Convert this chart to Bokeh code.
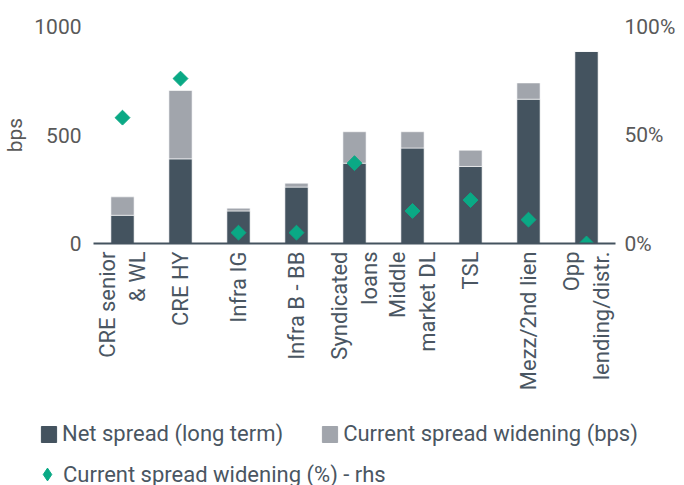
import math
from bokeh.plotting import figure
from bokeh.models import (ColumnDataSource, FactorRange, Range1d, LinearAxis,
                          Legend, LegendItem, FixedTicker, CustomJSTickFormatter)
from bokeh.embed import file_html
from bokeh.resources import INLINE

categories = ["CRE senior\n& WL", "CRE HY", "Infra IG", "Infra B - BB",
              "Syndicated\nloans", "Middle\nmarket DL", "TSL",
              "Mezz/2nd lien", "Opp\nlending/distr."]
net_spread = [130, 390, 150, 260, 370, 440, 355, 665, 885]
widening_bps = [85, 315, 13, 18, 145, 75, 75, 75, 0]
widening_pct = [58, 76, 5, 5, 37, 15, 20, 11, 0]
left_ticks = [0, 500, 1000]
right_ticks = [0, 50, 100]
series_labels = ["Net spread (long term)", "Current spread widening (bps)",
                 "Current spread widening (%) - rhs"]

DARK = "#44535f"
LIGHT = "#a1a5ac"
GREEN = "#0aa985"
TICK_GREY = "#595959"
TEXT_DARK = "#4a5662"
FONT = "Roboto"
FS = "22px"
FS_Y = "21px"

src = ColumnDataSource(dict(cat=categories, net=net_spread, wid=widening_bps,
                            pct=widening_pct))
xr = FactorRange(*categories, range_padding=0)

p = figure(width=678, height=397, x_range=xr,
           y_range=Range1d(0, 1000), output_backend="svg", toolbar_location=None,
           min_border_left=92, min_border_top=26, min_border_right=60,
           min_border_bottom=154)
p.outline_line_color = None
p.xgrid.grid_line_color = None
p.ygrid.grid_line_color = None
p.border_fill_color = "white"

p.extra_y_ranges = {"pct": Range1d(0, 100)}

p.vbar_stack(["net", "wid"], x="cat", width=0.4, source=src,
             color=[DARK, LIGHT], line_color="white", line_width=0.6)
p.scatter(x="cat", y="pct", source=src, y_range_name="pct", marker="square",
          angle=math.pi / 4, size=10.5, color=GREEN)

# left axis
ya = p.yaxis[0]
ya.ticker = FixedTicker(ticks=left_ticks)
ya.axis_line_color = None
ya.major_tick_line_color = None
ya.minor_tick_line_color = None
ya.major_tick_out = 0
ya.major_tick_in = 0
ya.major_label_standoff = 12
ya.major_label_text_font = FONT
ya.major_label_text_font_size = FS_Y
ya.major_label_text_color = TICK_GREY
ya.axis_label = "bps"
ya.axis_label_text_font = FONT
ya.axis_label_text_font_size = FS_Y
ya.axis_label_text_font_style = "normal"
ya.axis_label_text_color = TICK_GREY
ya.axis_label_standoff = 4

# right axis
ra = LinearAxis(y_range_name="pct", ticker=FixedTicker(ticks=right_ticks),
                formatter=CustomJSTickFormatter(code="return tick + '%';"))
ra.axis_line_color = None
ra.major_tick_line_color = None
ra.minor_tick_line_color = None
ra.major_tick_out = 0
ra.major_tick_in = 0
ra.major_label_standoff = 9
ra.major_label_text_font = FONT
ra.major_label_text_font_size = FS_Y
ra.major_label_text_color = TICK_GREY
p.add_layout(ra, "right")

# x axis
xa = p.xaxis[0]
xa.axis_line_color = DARK
xa.axis_line_width = 2
xa.major_tick_line_color = None
xa.minor_tick_line_color = None
xa.major_tick_out = 0
xa.major_tick_in = 0
xa.major_label_orientation = math.pi / 2
xa.major_label_standoff = 8
xa.major_label_text_font = FONT
xa.major_label_text_font_size = FS
xa.major_label_text_color = TEXT_DARK

# legend strip below the chart (swatch renderers are hidden, legend only)
lf = figure(width=678, height=88, x_range=Range1d(0, 1), y_range=Range1d(0, 1),
            x_axis_type=None, y_axis_type=None, output_backend="svg",
            toolbar_location=None, min_border=0)
lf.outline_line_color = None
lf.border_fill_color = "white"
lf.background_fill_color = "white"
leg_src = ColumnDataSource(dict(x=[-1], y=[-1]))
sw_net = lf.vbar(x="x", top="y", width=0.1, source=leg_src, color=DARK,
                 visible=False)
sw_wid = lf.vbar(x="x", top="y", width=0.1, source=leg_src, color=LIGHT,
                 visible=False)
sw_pct = lf.scatter(x="x", y="y", source=leg_src, marker="diamond", size=1,
                    color=GREEN, visible=False)

leg1 = Legend(items=[LegendItem(label=series_labels[0], renderers=[sw_net]),
                     LegendItem(label=series_labels[1], renderers=[sw_wid])],
              orientation="horizontal", location=(39, 39),
              glyph_width=19, glyph_height=20, label_standoff=4, spacing=37,
              label_text_font=FONT, label_text_font_size=FS,
              label_text_color=TEXT_DARK, border_line_color=None,
              background_fill_alpha=0, margin=0, padding=0)
leg2 = Legend(items=[LegendItem(label=series_labels[2], renderers=[sw_pct])],
              orientation="horizontal", location=(31, -5),
              glyph_width=32, glyph_height=32, label_standoff=0,
              label_text_font=FONT, label_text_font_size=FS,
              label_text_color=TEXT_DARK, border_line_color=None,
              background_fill_alpha=0, margin=0, padding=0)
lf.add_layout(leg1, "center")
lf.add_layout(leg2, "center")

open("out.html", "w").write(file_html([p, lf], INLINE))
